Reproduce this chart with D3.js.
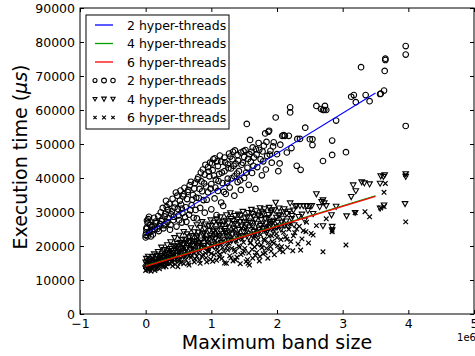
<!DOCTYPE html>
<html>
<head>
<meta charset="utf-8">
<script src="https://cdn.jsdelivr.net/npm/d3@7"></script>
<style>
  body { margin: 0; background: #fff; }
  text { font-family: "DejaVu Sans", sans-serif; }
</style>
</head>
<body>
<script>
// x values are in units of 1e6 (band size), y values in microseconds
var xTicks = [-1, 0, 1, 2, 3, 4, 5];
var yTicks = [0, 10000, 20000, 30000, 40000, 50000, 60000, 70000, 80000, 90000];
var seriesNames = ["2 hyper-threads", "4 hyper-threads", "6 hyper-threads"];
var lineColors = ["#0000ff", "#00a000", "#ff0000"];

// fitted lines (endpoints)
var fitX = [0, 3.5];
var fit2 = [23500, 65000];
var fit4 = [14200, 34800];
var fit6 = [14000, 34600];

var pts2 = [[0.0,22500],[0.0,23200],[0.01,24000],[0.02,25500],[0.03,26800],[0.02,27500],[0.05,28600],[0.08,22800],[0.1,24500],[0.12,26000],[0.05,23800],[0.15,27200],[0.18,25000],[0.2,24400],[0.22,26500],[0.25,27800],[0.27,25200],[0.3,29500],[0.32,31500],[0.3,26300],[0.35,28200],[0.37,24800],[0.4,30200],[0.42,27600],[0.45,32500],[0.47,25700],[0.48,34800],[0.5,29000],[0.52,33300],[0.55,31000],[0.55,26900],[0.58,35200],[0.6,28500],[0.62,27100],[0.63,33800],[0.65,36500],[0.67,37900],[0.68,30500],[0.7,32000],[0.72,35000],[0.73,28300],[0.75,38500],[0.77,34200],[0.78,28100],[0.8,40200],[0.82,36800],[0.83,31200],[0.85,39000],[0.87,42500],[0.88,33500],[0.9,41000],[0.9,29800],[0.92,37500],[0.95,43200],[0.95,35800],[0.97,40500],[0.98,44500],[1.0,30800],[1.0,38200],[1.02,42300],[1.03,45500],[1.05,34000],[1.05,45800],[1.07,39500],[1.08,29100],[1.1,43500],[1.1,36200],[1.12,41200],[1.15,44800],[1.15,32800],[1.17,38500],[1.18,31800],[1.2,46000],[1.2,42000],[1.22,35300],[1.25,44000],[1.25,39800],[1.27,47200],[1.28,37200],[1.3,42800],[1.32,45500],[1.33,47700],[1.35,40500],[1.35,34800],[1.37,44200],[1.4,46800],[1.4,38800],[1.42,42000],[1.45,47500],[1.45,36500],[1.48,44500],[1.5,40000],[1.5,46200],[1.52,48200],[1.54,55900],[1.55,43000],[1.57,38000],[1.58,47000],[1.59,51200],[1.6,44800],[1.62,41500],[1.63,49000],[1.65,46000],[1.67,36800],[1.68,48500],[1.7,43200],[1.72,50300],[1.75,45500],[1.77,40800],[1.78,47800],[1.8,49500],[1.82,53100],[1.83,42500],[1.85,46500],[1.87,53600],[1.88,53900],[1.9,48000],[1.92,44500],[1.95,50500],[1.98,57800],[2.0,47000],[2.02,42000],[2.04,44300],[2.05,49800],[2.08,52400],[2.1,52600],[2.12,52400],[2.15,47500],[2.18,52400],[2.2,60800],[2.2,59300],[2.22,48800],[2.3,43600],[2.31,51500],[2.35,51500],[2.36,42400],[2.43,54800],[2.5,51400],[2.54,51400],[2.54,49700],[2.6,61200],[2.67,60300],[2.7,60000],[2.72,60000],[2.75,60000],[2.73,61200],[2.7,45000],[2.84,51000],[2.84,46800],[2.9,56900],[3.05,47600],[3.13,63900],[3.17,64400],[3.2,62300],[3.28,72600],[3.35,64400],[3.41,62600],[3.57,64700],[3.63,65700],[3.58,64800],[3.64,71500],[3.65,74700],[3.65,75100],[3.96,78800],[3.96,76300],[3.96,55300],
  [0.01,25100],[0.03,22900],[0.04,27900],[0.06,24300],[0.07,26200],[0.09,25600],[0.11,23400],[0.13,28300],[0.14,24900],[0.16,26700],[0.19,28800],[0.21,25800],[0.23,29900],[0.24,27300],[0.26,31200],[0.28,26100],[0.29,28700],[0.31,33300],[0.33,27000],[0.34,30600],[0.36,32400],[0.38,26200],[0.39,29300],[0.41,33900],[0.43,28600],[0.44,31300],[0.46,35700],[0.49,30900],[0.51,27600],[0.53,36300],[0.54,32200],[0.56,29700],[0.57,34600],[0.59,37100],[0.61,31400],[0.64,35900],[0.66,29200],[0.69,38900],[0.71,33600],[0.74,36900],[0.76,30600],[0.79,39600],[0.81,34100],[0.84,41600],[0.86,36100],[0.89,38400],[0.91,43900],[0.93,33600],[0.96,41900],[0.99,36900],[1.01,44300],[1.04,40700],[1.06,37200],[1.09,44900],[1.11,39100],[1.13,46600],[1.16,41600],[1.19,35900],[1.21,44600],[1.24,38600],[1.26,42900],[1.29,46300],[1.31,39900],[1.34,43600],[1.36,48100],[1.39,41300],[1.41,45100],[1.44,39300],[1.46,43900],[1.49,47900],[1.53,41600],[1.56,45600],[1.61,47700],[1.64,43600],[1.69,46900],[1.73,48300],[1.79,44900],[1.84,50600],[1.89,46900],[1.94,49300]];

var pts4 = [[0.0,13500],[0.0,15200],[0.01,16300],[0.03,14200],[0.05,15800],[0.08,13800],[0.1,16800],[0.12,15000],[0.15,14500],[0.17,17200],[0.2,16000],[0.22,15300],[0.25,17800],[0.27,16500],[0.3,15500],[0.32,18500],[0.35,17000],[0.37,19200],[0.4,16200],[0.42,18000],[0.45,20000],[0.47,17500],[0.5,19000],[0.52,21000],[0.55,18200],[0.57,20500],[0.6,22000],[0.62,19500],[0.65,17800],[0.67,21500],[0.7,23000],[0.72,20200],[0.75,18800],[0.77,22500],[0.8,24000],[0.82,21000],[0.85,19500],[0.87,23500],[0.9,25000],[0.92,21800],[0.95,20000],[0.97,24500],[1.0,26000],[1.02,22500],[1.05,19800],[1.07,25000],[1.1,27000],[1.12,23000],[1.15,21000],[1.17,26000],[1.2,24500],[1.22,27500],[1.25,22000],[1.27,25500],[1.3,28000],[1.32,23500],[1.35,26500],[1.37,21500],[1.4,27800],[1.42,24800],[1.45,29000],[1.47,23000],[1.5,27000],[1.52,25500],[1.55,28500],[1.57,22500],[1.6,26800],[1.62,29500],[1.65,24200],[1.67,27800],[1.7,23500],[1.72,28800],[1.75,26000],[1.77,30000],[1.8,25000],[1.82,28000],[1.85,24500],[1.87,29200],[1.9,26500],[1.92,30500],[1.95,27500],[1.98,32800],[2.0,25500],[2.02,29000],[2.04,29100],[2.07,27000],[2.1,30000],[2.12,26000],[2.15,29500],[2.2,32600],[2.22,28000],[2.25,30500],[2.3,31800],[2.35,31800],[2.4,31800],[2.45,31800],[2.5,31800],[2.53,31800],[2.55,29500],[2.6,35300],[2.65,31500],[2.68,33000],[2.7,33500],[2.72,32600],[2.75,31800],[2.7,25900],[2.83,29100],[2.84,25700],[2.84,24700],[2.9,31600],[3.06,28800],[3.13,34500],[3.16,37900],[3.19,29800],[3.2,36200],[3.29,38800],[3.33,38500],[3.41,38200],[3.57,38400],[3.57,31100],[3.58,40600],[3.62,40400],[3.64,40900],[3.63,32000],[3.96,41200],[3.96,40400],[3.95,32400],
  [0.02,14600],[0.04,16900],[0.06,13100],[0.09,15400],[0.11,14100],[0.13,17600],[0.14,16100],[0.16,13600],[0.19,18300],[0.21,14900],[0.23,17100],[0.24,19600],[0.26,15800],[0.28,18900],[0.29,14300],[0.31,16700],[0.33,20300],[0.34,17900],[0.36,15100],[0.38,21200],[0.39,18600],[0.41,16500],[0.43,19900],[0.44,22400],[0.46,17100],[0.48,20700],[0.49,15800],[0.51,23100],[0.53,19300],[0.54,16900],[0.56,21800],[0.58,24200],[0.59,18100],[0.61,20900],[0.63,23500],[0.64,17300],[0.66,22600],[0.68,19100],[0.69,25300],[0.71,21400],[0.73,18500],[0.74,24100],[0.76,20700],[0.78,26200],[0.79,22900],[0.81,19600],[0.83,25400],[0.84,21700],[0.86,27100],[0.88,20100],[0.89,23800],[0.91,26400],[0.93,22200],[0.94,19000],[0.96,25900],[0.98,23100],[0.99,27600],[1.01,20800],[1.03,24300],[1.04,26900],[1.06,22100],[1.08,27900],[1.09,24600],[1.11,20500],[1.13,26300],[1.14,28500],[1.16,23700],[1.18,21900],[1.19,27200],[1.21,25100],[1.23,29100],[1.24,22800],[1.26,26700],[1.28,24000],[1.29,29700],[1.31,21600],[1.33,27400],[1.34,25200],[1.36,28900],[1.38,23200],[1.39,26100],[1.41,29300],[1.43,22600],[1.44,27100],[1.46,25800],[1.48,30100],[1.49,24100],[1.51,28200],[1.53,26300],[1.54,22900],[1.56,29800],[1.58,27300],[1.59,24700],[1.61,30700],[1.63,25900],[1.64,28700],[1.66,23300],[1.68,30300],[1.69,26600],[1.71,29100],[1.73,24900],[1.74,31200],[1.76,27700],[1.78,25100],[1.79,29600],[1.81,30900],[1.83,26700],[1.84,23900],[1.86,28300],[1.88,31300],[1.89,25600],[1.91,29900],[1.93,27100],[1.94,24400],[1.96,30600],[1.99,28400],[2.01,26900],[2.03,31100],[2.06,24900],[2.09,28100],[2.11,30900],[2.14,27300],[2.17,25800],[2.19,30200],[2.23,28900],[2.26,26200],[2.28,31700],[2.33,28600],[2.38,29300],[2.42,27600],[2.47,30400]];

var pts6 = [[0.0,12800],[0.0,14000],[0.01,15500],[0.03,13200],[0.05,14800],[0.08,12600],[0.1,15800],[0.12,13900],[0.15,15200],[0.17,13500],[0.2,16200],[0.22,14300],[0.25,15600],[0.27,13800],[0.3,17000],[0.32,14800],[0.35,16300],[0.37,18000],[0.4,15200],[0.42,17200],[0.45,14600],[0.47,18800],[0.5,16000],[0.52,17800],[0.55,15400],[0.57,19500],[0.6,16800],[0.62,18500],[0.65,15000],[0.67,20200],[0.7,17200],[0.72,19000],[0.75,16200],[0.77,21000],[0.8,18000],[0.82,15800],[0.85,20000],[0.87,17500],[0.9,22000],[0.92,16500],[0.95,19200],[0.97,21500],[1.0,17800],[1.02,15500],[1.05,20500],[1.07,23000],[1.1,18200],[1.12,16800],[1.15,21800],[1.17,19500],[1.2,15000],[1.22,23500],[1.25,18800],[1.27,20800],[1.3,16500],[1.32,22500],[1.35,19000],[1.37,15900],[1.4,24000],[1.42,20000],[1.45,17500],[1.47,22000],[1.5,18500],[1.52,25000],[1.55,16000],[1.56,14900],[1.58,14400],[1.6,21000],[1.62,19000],[1.65,23000],[1.67,17200],[1.7,20500],[1.72,24500],[1.74,16900],[1.77,19500],[1.8,22000],[1.82,18000],[1.85,25500],[1.87,21000],[1.9,19800],[1.92,23000],[1.95,20800],[1.98,26000],[2.0,22500],[2.04,18800],[2.07,19800],[2.1,24000],[2.15,22000],[2.2,26500],[2.25,23000],[2.3,25000],[2.36,18800],[2.4,24500],[2.45,27000],[2.52,23700],[2.55,23200],[2.6,26000],[2.7,18300],[2.75,28000],[2.84,24700],[2.84,24200],[3.05,20300],[3.19,29800],[3.34,30100],[3.41,28600],[3.58,31200],[3.63,31600],[3.63,35800],[3.65,38400],[3.96,41000],[3.96,27100],
  [0.02,13600],[0.04,12900],[0.06,15100],[0.07,14200],[0.09,13400],[0.11,16400],[0.13,14700],[0.14,12800],[0.16,15900],[0.18,14100],[0.19,17100],[0.21,13300],[0.23,15000],[0.24,16800],[0.26,14400],[0.28,17600],[0.29,15300],[0.31,13900],[0.33,16600],[0.34,18400],[0.36,14900],[0.38,16100],[0.39,19000],[0.41,14100],[0.43,17900],[0.44,15700],[0.46,19700],[0.48,16400],[0.49,13900],[0.51,18600],[0.53,15100],[0.54,20300],[0.56,17000],[0.58,14800],[0.59,19200],[0.61,16000],[0.63,21100],[0.64,17700],[0.66,14400],[0.68,19800],[0.69,16600],[0.71,21600],[0.73,18100],[0.74,15300],[0.76,20400],[0.78,17000],[0.79,22400],[0.81,18800],[0.83,14900],[0.84,21200],[0.86,16900],[0.88,19400],[0.89,23300],[0.91,17900],[0.93,15300],[0.94,20900],[0.96,18300],[0.98,22700],[0.99,16100],[1.01,19700],[1.03,24100],[1.04,17400],[1.06,21600],[1.08,15800],[1.09,19100],[1.11,23300],[1.13,17600],[1.14,20700],[1.16,16300],[1.18,24600],[1.19,18400],[1.21,21200],[1.23,14900],[1.24,19900],[1.26,23800],[1.28,17100],[1.29,21900],[1.31,19300],[1.33,15600],[1.34,24900],[1.36,18300],[1.38,21500],[1.39,16700],[1.41,22900],[1.43,19600],[1.44,14800],[1.46,25300],[1.48,17900],[1.49,21100],[1.51,19300],[1.53,15400],[1.54,23900],[1.57,17900],[1.59,20900],[1.61,25700],[1.63,16400],[1.64,22300],[1.66,19700],[1.68,24800],[1.69,18100],[1.71,21900],[1.73,15600],[1.75,23300],[1.76,20300],[1.78,26300],[1.79,17700],[1.81,21600],[1.83,24300],[1.84,19300],[1.86,16400],[1.88,22900],[1.89,26900],[1.91,18500],[1.93,21300],[1.94,24800],[1.96,17400],[1.99,23600],[2.01,20100],[2.03,25600],[2.06,21900],[2.09,18300],[2.11,26400],[2.13,22700],[2.16,19600],[2.18,24900],[2.21,21300],[2.24,18600],[2.27,23900],[2.32,20600],[2.34,25800],[2.38,22100],[2.44,24200],[2.48,20900]];

var W = 475, H = 356;
var margin = {top: 8, right: 1, bottom: 42, left: 80};
var width = W - margin.left - margin.right,
    height = H - margin.top - margin.bottom;

var svg = d3.select("body").append("svg")
    .attr("width", W)
    .attr("height", H);

var g = svg.append("g")
    .attr("transform", "translate(" + margin.left + "," + margin.top + ")");

var x = d3.scaleLinear().domain([-1, 5]).range([0, width]);
var y = d3.scaleLinear().domain([0, 90000]).range([height, 0]);

var fmtX = function(d) { return d < 0 ? "\u2212" + Math.abs(d) : d; };

// axes, ticks point inwards like matplotlib classic
g.append("g").attr("transform", "translate(0," + height + ")")
    .call(d3.axisBottom(x).tickValues(xTicks).tickSize(-4).tickPadding(5).tickFormat(fmtX));
g.append("g")
    .call(d3.axisLeft(y).tickValues(yTicks).tickSize(-4).tickPadding(5).tickFormat(d3.format("d")));
g.append("g")
    .call(d3.axisTop(x).tickValues(xTicks).tickSize(-4).tickFormat(""));
g.append("g").attr("transform", "translate(" + width + ",0)")
    .call(d3.axisRight(y).tickValues(yTicks).tickSize(-4).tickFormat(""));

g.selectAll(".domain").remove();
g.selectAll(".tick line").attr("stroke", "#000");
g.selectAll(".tick text").attr("fill", "#000").style("font-size", "12.5px")
    .style("font-family", "DejaVu Sans");

// plotting area clip
g.append("clipPath").attr("id", "clip")
  .append("rect").attr("width", width).attr("height", height);
var plot = g.append("g").attr("clip-path", "url(#clip)");

// scatter markers
function drawCircle(sel, r) {
  sel.append("circle").attr("r", r)
    .attr("fill", "none").attr("stroke", "#000").attr("stroke-width", 1.1);
}
function drawTri(sel, s) {
  sel.append("path")
    .attr("d", "M" + (-s) + "," + (-s * 0.8) + "L" + s + "," + (-s * 0.8) + "L0," + (s * 1.0) + "Z")
    .attr("fill", "none").attr("stroke", "#000").attr("stroke-width", 1.1);
}
function drawX(sel, s) {
  sel.append("path")
    .attr("d", "M" + (-s) + "," + (-s) + "L" + s + "," + s + "M" + (-s) + "," + s + "L" + s + "," + (-s))
    .attr("fill", "none").attr("stroke", "#000").attr("stroke-width", 1.2);
}

plot.selectAll(".p6").data(pts6).enter().append("g")
  .attr("transform", function(d) { return "translate(" + x(d[0]) + "," + y(d[1]) + ")"; })
  .each(function() { drawX(d3.select(this), 2.3); });

plot.selectAll(".p4").data(pts4).enter().append("g")
  .attr("transform", function(d) { return "translate(" + x(d[0]) + "," + y(d[1]) + ")"; })
  .each(function() { drawTri(d3.select(this), 2.8); });

plot.selectAll(".p2").data(pts2).enter().append("g")
  .attr("transform", function(d) { return "translate(" + x(d[0]) + "," + y(d[1]) + ")"; })
  .each(function() { drawCircle(d3.select(this), 2.8); });

// fitted lines
var fits = [fit2, fit4, fit6];
var line = d3.line().x(function(d) { return x(d[0]); }).y(function(d) { return y(d[1]); });
fits.forEach(function(f, i) {
  plot.append("path")
    .datum(fitX.map(function(v, j) { return [v, f[j]]; }))
    .attr("d", line)
    .attr("fill", "none")
    .attr("stroke", lineColors[i])
    .attr("stroke-width", 1.1);
});

// frame
g.append("rect").attr("width", width).attr("height", height)
  .attr("fill", "none").attr("stroke", "#000").attr("stroke-width", 1);

// legend
var leg = g.append("g").attr("transform", "translate(6,7)");
leg.append("rect").attr("width", 143).attr("height", 114)
  .attr("fill", "#fff").attr("stroke", "#000").attr("stroke-width", 1);
var rowY = function(i) { return 10 + i * 18.5; };
seriesNames.forEach(function(name, i) {
  leg.append("line").attr("x1", 9).attr("x2", 27).attr("y1", rowY(i)).attr("y2", rowY(i))
    .attr("stroke", lineColors[i]).attr("stroke-width", 1.3);
});
var markerFns = [drawCircle, drawTri, drawX];
var legSizes = [[2.0, 2.4, 2.2], [1.9, 2.3, 2.1], [1.6, 1.9, 1.7]];
seriesNames.forEach(function(name, i) {
  [9, 18, 27].forEach(function(mx, k) {
    var m = leg.append("g").attr("transform", "translate(" + mx + "," + rowY(i + 3) + ")");
    markerFns[i](m, legSizes[i][k]);
  });
});
seriesNames.concat(seriesNames).forEach(function(name, i) {
  leg.append("text").attr("x", 41).attr("y", rowY(i)).attr("dy", "0.36em")
    .style("font-size", "12.5px").attr("fill", "#000").text(name);
});

// axis labels
svg.append("text")
  .attr("x", margin.left + width / 2).attr("y", 349)
  .attr("text-anchor", "middle").style("font-size", "19px").attr("fill", "#000")
  .text("Maximum band size");

var yl = svg.append("text")
  .attr("transform", "translate(27," + (margin.top + height / 2 - 4) + ") rotate(-90)")
  .attr("text-anchor", "middle").style("font-size", "19px").attr("fill", "#000");
yl.append("tspan").text("Execution time (");
yl.append("tspan").style("font-style", "italic").text("\u03bcs");
yl.append("tspan").text(")");

// offset text
svg.append("text")
  .attr("x", 476).attr("y", 341)
  .attr("text-anchor", "end").style("font-size", "10px").attr("fill", "#000")
  .text("1e6");
</script>
</body>
</html>
